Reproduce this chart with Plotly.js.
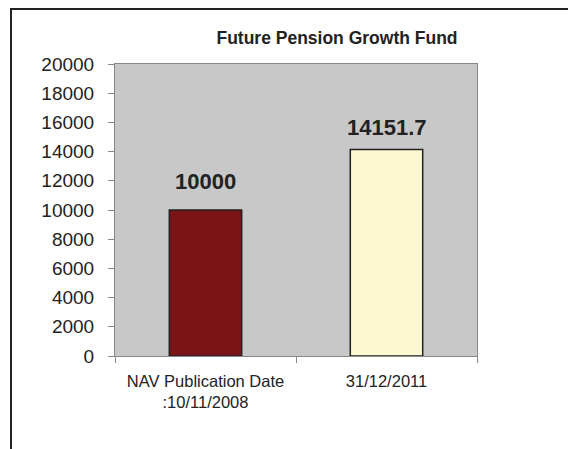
<!DOCTYPE html>
<html>
<head>
<meta charset="utf-8">
<script src="https://cdn.plot.ly/plotly-3.0.1.min.js"></script>
<style>
  body { margin: 0; background: #fff; }
  #wrap { position: relative; width: 568px; height: 449px; }
  #chart { width: 568px; height: 449px; }
  /* outer frame: only top and left edges are visible in the original */
  #frame {
    position: absolute; left: 10px; top: 8px; right: 0; bottom: 0;
    border-top: 2px solid #222; border-left: 2px solid #222;
    pointer-events: none;
  }
</style>
</head>
<body>
<div id="wrap">
  <div id="chart"></div>
  <div id="frame"></div>
</div>
<script>
// ---- data ----
const categories = ["NAV Publication Date<br>:10/11/2008", "31/12/2011"];
const navValues = [10000, 14151.7];
const valueLabels = ["10000", "14151.7"];
const yTicks = [0, 2000, 4000, 6000, 8000, 10000, 12000, 14000, 16000, 18000, 20000];

const barColors = ["#7b1416", "#fcf8d0"];

const trace = {
  x: categories,
  y: navValues,
  type: "bar",
  width: 0.4,
  marker: {
    color: barColors,
    line: { color: "#222", width: 1.5 }
  },
  hoverinfo: "none"
};

// value labels above the bars
const labelShift = [14, 7];
const annotations = categories.map((c, i) => ({
  x: c,
  y: navValues[i],
  xref: "x",
  yref: "y",
  text: "<b>" + valueLabels[i] + "</b>",
  showarrow: false,
  yanchor: "bottom",
  yshift: labelShift[i],
  font: { family: "Liberation Sans, Arial, sans-serif", size: 22, color: "#222" }
}));

const layout = {
  width: 568,
  height: 449,
  margin: { l: 115, r: 91, t: 64, b: 93 },
  paper_bgcolor: "#fff",
  plot_bgcolor: "#c8c8c8",
  showlegend: false,
  font: { family: "Liberation Sans, Arial, sans-serif", color: "#222" },
  title: {
    text: "<b>Future Pension Growth Fund</b>",
    font: { size: 17.5, color: "#222" },
    x: 337 / 568,
    xanchor: "center",
    xref: "container",
    y: 1 - 38 / 449,
    yanchor: "middle",
    yref: "container"
  },
  xaxis: {
    type: "category",
    showgrid: false,
    showline: true,
    linecolor: "#888",
    linewidth: 1,
    mirror: true,
    ticks: "outside",
    tickson: "boundaries",
    ticklen: 6,
    tickcolor: "#888",
    tickfont: { size: 16.5, color: "#222" },
    ticklabelstandoff: 10,
    fixedrange: true
  },
  yaxis: {
    range: [0, 20000],
    tickvals: yTicks,
    ticktext: yTicks.map(String),
    showgrid: false,
    zeroline: false,
    showline: true,
    linecolor: "#888",
    linewidth: 1,
    mirror: true,
    ticks: "outside",
    ticklen: 6,
    tickcolor: "#888",
    tickfont: { size: 19, color: "#222" },
    ticklabelstandoff: 10,
    fixedrange: true
  },
  annotations: annotations
};

Plotly.newPlot("chart", [trace], layout, { displayModeBar: false, staticPlot: true });
</script>
</body>
</html>
